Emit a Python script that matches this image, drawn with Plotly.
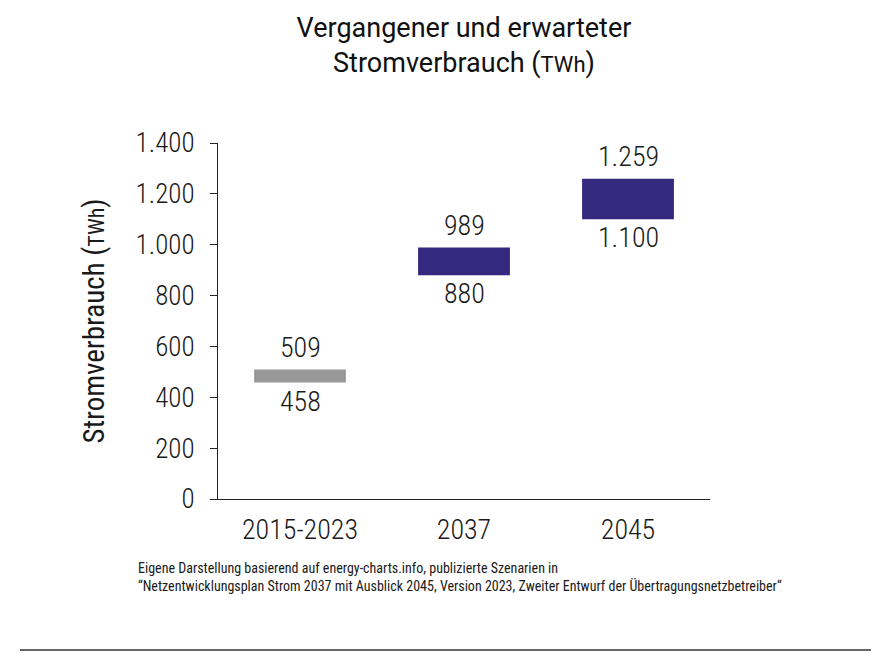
import plotly.graph_objects as go

categories = ["2015-2023", "2037", "2045"]
lower = [458, 880, 1100]
upper = [509, 989, 1259]
bar_colors = ["#999999", "#35287f", "#35287f"]
y_ticks = [0, 200, 400, 600, 800, 1000, 1200, 1400]

FONT = "Roboto Condensed, Roboto, sans-serif"
TXT = "#1a1a1a"

# figure-pixel layout (page adds 8px body margin)
L, T, PW, PH = 210, 135, 492, 356

def de(v):
    return f"{v:,}".replace(",", ".")

fig = go.Figure()
fig.add_trace(go.Bar(
    x=categories,
    y=[u - l for u, l in zip(upper, lower)],
    base=lower,
    marker=dict(color=bar_colors, line=dict(width=0)),
    width=0.56,
    hoverinfo="skip",
    showlegend=False,
))

anns = []
for i, (u, l) in enumerate(zip(upper, lower)):
    anns.append(dict(x=i, y=u, xref="x", yref="y", text=de(u), showarrow=False,
                     yanchor="bottom", yshift=4,
                     font=dict(family=FONT, size=28, color=TXT, weight=300)))
    anns.append(dict(x=i, y=l, xref="x", yref="y", text=de(l), showarrow=False,
                     yanchor="top", yshift=0,
                     font=dict(family=FONT, size=28, color=TXT, weight=300)))

anns.append(dict(
    xref="paper", yref="paper", x=(128 - L) / PW, y=-59 / PH,
    xanchor="left", yanchor="top", align="left", showarrow=False,
    text="Eigene Darstellung basierend auf energy-charts.info, publizierte Szenarien in<br>"
         "“Netzentwicklungsplan Strom 2037 mit Ausblick 2045, Version 2023, Zweiter Entwurf der Übertragungsnetzbetreiber“",
    font=dict(family=FONT, size=14, color=TXT),
))

fig.update_layout(
    width=880, height=671,
    margin=dict(l=L, r=880 - L - PW, t=T, b=671 - T - PH),
    paper_bgcolor="white", plot_bgcolor="white",
    separators=",.",
    font=dict(family=FONT, color=TXT),
    title=dict(
        text="Vergangener und erwarteter<br>Stromverbrauch (<span style='font-size:22px'>TWh</span>)",
        x=(L + PW / 2) / 880, xanchor="center",
        y=0.957, yanchor="top",
        font=dict(family="Roboto, sans-serif", size=27, color="#111111"),
    ),
    xaxis=dict(
        type="category", range=[-0.5, len(categories) - 0.5],
        showline=True, linecolor="#222222", linewidth=1,
        ticks="", showgrid=False, ticklabelstandoff=5,
        tickfont=dict(family=FONT, size=28, color=TXT, weight=300),
    ),
    yaxis=dict(
        range=[0, 1400], tickvals=y_ticks,
        tickformat=",d",
        showline=True, linecolor="#222222", linewidth=1,
        ticks="outside", ticklen=7, tickcolor="#222222",
        showgrid=False, zeroline=False, ticklabelstandoff=10,
        tickfont=dict(family=FONT, size=27, color=TXT, weight=300),
        title=dict(text="Stromverbrauch (<span style='font-size:22px'>TWh</span>)",
                   font=dict(family=FONT, size=29, color=TXT), standoff=22),
    ),
    shapes=[dict(type="line", xref="paper", yref="paper",
                 x0=(12 - L) / PW, x1=(863 - L) / PW,
                 y0=-151 / PH, y1=-151 / PH,
                 line=dict(color="#666666", width=2))],
    annotations=anns,
)

fig.write_html("out.html")
